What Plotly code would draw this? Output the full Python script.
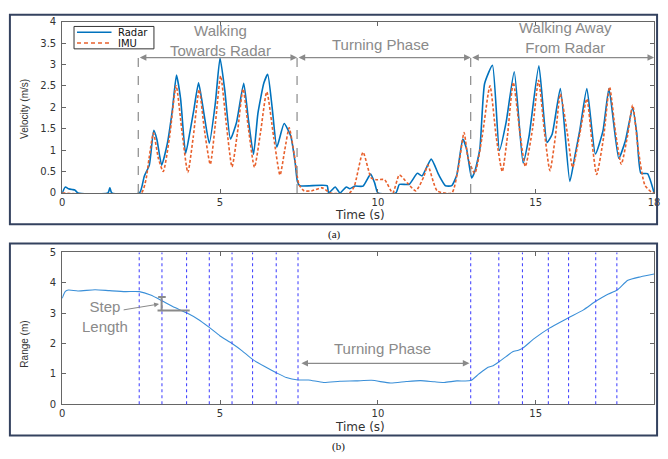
import plotly.graph_objects as go

# ---------------- data ----------------
radar_t = [0, 0.1, 0.2, 0.31, 0.4, 0.5, 1.45, 1.51, 1.57, 2.45, 2.6, 2.76, 2.9, 3.0, 3.15, 3.33, 3.49, 3.62,
           3.75, 3.91, 4.06, 4.17, 4.32, 4.48, 4.66, 4.85, 5.0, 5.15, 5.33, 5.52, 5.75, 5.9, 6.06, 6.2, 6.39,
           6.51, 6.65, 6.8, 7.03, 7.24, 7.38, 7.45, 7.53, 8.39, 8.44, 8.65, 8.8, 9.0, 9.11, 9.27, 9.53, 9.77,
           9.9, 10.0, 10.57, 10.68, 10.99, 11.25, 11.4, 11.69, 11.93, 12.14, 12.34, 12.5, 12.69, 12.81, 12.97,
           13.07, 13.23, 13.38, 13.63, 13.85, 14.06, 14.32, 14.6, 14.79, 15.1, 15.36, 15.52, 15.78, 16.08,
           16.25, 16.4, 16.62, 16.89, 17.13, 17.32, 17.63, 17.84, 18.07, 18.2, 18.33, 18.54, 18.75]
radar_v = [0, 0.14, 0.1, 0.08, 0.07, 0, 0, 0.12, 0, 0, 0.39, 0.65, 1.46, 1.25, 0.65, 1.15, 1.94, 2.75,
           2.2, 0.92, 1.48, 1.94, 2.57, 1.9, 1.16, 2.09, 3.15, 2.4, 1.26, 1.64, 2.56, 1.7, 0.9, 1.86, 2.57,
           2.77, 2.0, 1.07, 1.62, 1.33, 0.7, 0.27, 0.17, 0.17, 0, 0.14, 0, 0.14, 0.1, 0.16, 0.16, 0.44,
           0.23, 0, 0, 0.2, 0.2, 0.46, 0.4, 0.79, 0.42, 0.17, 0.17, 0.42, 1.26, 1.03, 0.35,
           0.5, 1.03, 2.55, 2.98, 0.99, 1.64, 2.83, 0.7, 1.33, 2.97, 1.18, 1.37, 2.44, 0.27,
           0.9, 1.48, 2.44, 0.91, 1.45, 2.44, 0.81, 1.22, 1.99, 1.4, 0.46, 0.45, 0]

imu_t = [0, 2.5, 2.65, 2.75, 2.89, 3.05, 3.2, 3.4, 3.61, 3.8, 3.98, 4.15, 4.34, 4.5, 4.69, 4.85, 5.02, 5.2,
         5.38, 5.55, 5.73, 5.9, 6.09, 6.28, 6.48, 6.7, 6.9, 7.05, 7.19, 7.35, 7.5, 7.66, 7.9, 8.23, 8.5,
         9.1, 9.25, 9.53, 9.79, 9.95, 10.21, 10.47, 10.68, 10.94, 11.2, 11.46, 11.58, 11.88, 12.34, 12.55,
         12.73, 12.86, 13.07, 13.3, 13.55, 13.75, 13.94, 14.1, 14.29, 14.5, 14.67, 14.9, 15.09, 15.28,
         15.45, 15.62, 15.78, 16.0, 16.17, 16.4, 16.62, 16.78, 16.93, 17.15, 17.34, 17.53, 17.71, 17.9,
         18.07, 18.25, 18.46, 18.7, 18.75]
imu_v = [0, 0, 0.3, 0.8, 1.4, 0.8, 0.5, 1.3, 2.5, 1.4, 0.48, 1.3, 2.41, 1.5, 0.67, 1.6, 2.73, 1.6,
         0.61, 1.4, 2.43, 1.5, 0.6, 1.4, 2.36, 1.3, 0.42, 1.0, 1.52, 0.9, 0.2, 0.05, 0.05, 0.12, 0,
         0, 0.15, 0.95, 0.35, 0.31, 0.31, 0, 0.42, 0.23, 0.05, 0.39, 0.65, 0.05, 0, 0.6,
         1.41, 0.8, 0.46, 1.3, 2.5, 1.3, 0.5, 1.3, 2.58, 1.4, 0.62, 1.5, 2.63, 1.4,
         0.52, 1.3, 2.31, 1.4, 0.6, 1.4, 2.2, 1.2, 0.43, 1.3, 2.47, 1.4, 0.67, 1.3,
         2.05, 1.0, 0.18, 0, 0]

range_t = [0, 0.1, 0.2, 0.5, 1.04, 1.5, 2.0, 2.44, 2.8, 3.16, 3.5, 3.94, 4.3, 4.66, 5.0, 5.38, 5.7, 6.03,
           6.4, 6.78, 7.1, 7.47, 7.8, 8.28, 8.8, 9.3, 9.8, 10.4, 10.9, 11.35, 11.8, 12.1, 12.5, 12.94,
           13.2, 13.49, 13.65, 13.85, 14.1, 14.27, 14.45, 14.58, 14.95, 15.42, 16.04, 16.5, 16.9, 17.24,
           17.58, 17.92, 18.33, 18.75]
range_m = [3.49, 3.72, 3.76, 3.73, 3.77, 3.74, 3.71, 3.71, 3.6, 3.41, 3.22, 3.01, 2.8, 2.53, 2.25, 2.0, 1.76,
           1.48, 1.25, 1.04, 0.88, 0.8, 0.8, 0.72, 0.76, 0.77, 0.79, 0.7, 0.75, 0.78, 0.74, 0.72, 0.77, 0.78,
           1.0, 1.22, 1.27, 1.41, 1.6, 1.73, 1.78, 1.84, 2.16, 2.5, 2.85, 3.1, 3.39, 3.6,
           3.76, 4.08, 4.2, 4.29]

step_times = [2.44, 3.16, 3.94, 4.66, 5.38, 6.03, 6.78, 7.47, 12.94, 13.83, 14.58, 15.4, 16.04, 16.9, 17.57]
phase_bounds = [2.41, 7.44, 12.94, 18.75]
phase_labels = ["Walking<br>Towards Radar", "Turning Phase", "Walking Away<br>From Radar"]

x_ticks_top = [0, 5, 10, 15, 18.75]
x_ticktext_top = ["0", "5", "10", "15", "18"]

# ---------------- figure ----------------
W, H = 668, 459
def px(x):
    return x / W
def py(y):
    return 1 - y / H

RADAR_C = "#0072BD"
IMU_C = "#E8602C"
IMU_DASH = "3px,2px"

fig = go.Figure()
fig.add_trace(go.Scatter(x=radar_t, y=radar_v, name="Radar", mode="lines", showlegend=False,
                         line=dict(color=RADAR_C, width=1.6, shape="spline", smoothing=0.5),
                         xaxis="x", yaxis="y"))
fig.add_trace(go.Scatter(x=imu_t, y=imu_v, name="IMU", mode="lines", showlegend=False,
                         line=dict(color=IMU_C, width=1.6, dash=IMU_DASH, shape="spline", smoothing=0.6),
                         xaxis="x", yaxis="y"))
fig.add_trace(go.Scatter(x=range_t, y=range_m, name="Range", mode="lines", showlegend=False,
                         line=dict(color="#3A8FD8", width=1.1, shape="spline", smoothing=0.6),
                         xaxis="x2", yaxis="y2"))

axis_common = dict(showgrid=False, zeroline=False, showline=True, linecolor="#666", linewidth=1,
                   mirror="ticks", ticks="inside", ticklen=4, tickcolor="#666",
                   tickfont=dict(family="DejaVu Sans", size=10, color="#333"))

shapes = []
annotations = []
gray = "#8a8a8a"

def text_ann(x, y, text, family="Liberation Sans", size=15, color=gray, angle=0):
    return dict(x=px(x), y=py(y), xref="paper", yref="paper", text=text, showarrow=False,
                xanchor="center", yanchor="middle", textangle=angle,
                font=dict(family=family, size=size, color=color))

# outer frames
for (y0, y1) in [(9, 224), (244, 441)]:
    shapes.append(dict(type="rect", xref="paper", yref="paper", x0=px(7), x1=px(663), y0=py(y1), y1=py(y0),
                       line=dict(color="#34425f", width=2)))

# legend (manual, compact)
shapes.append(dict(type="rect", xref="paper", yref="paper", x0=px(72), x1=px(153), y0=py(44), y1=py(21),
                   line=dict(color="#333", width=1), fillcolor="white", layer="above"))
shapes.append(dict(type="line", xref="paper", yref="paper", x0=px(75), x1=px(110), y0=py(27), y1=py(27),
                   line=dict(color=RADAR_C, width=1.6), layer="above"))
shapes.append(dict(type="line", xref="paper", yref="paper", x0=px(75), x1=px(110), y0=py(38), y1=py(38),
                   line=dict(color=IMU_C, width=1.6, dash="4px,3px"), layer="above"))
for lab, yy in [("Radar", 27), ("IMU", 38)]:
    annotations.append(dict(x=px(115), y=py(yy), xref="paper", yref="paper", text=lab, showarrow=False,
                            xanchor="left", yanchor="middle",
                            font=dict(family="DejaVu Sans", size=10, color="#111")))

# top phase dividers and arrows
arrow_y = 3.16
for xb in phase_bounds[:3]:
    shapes.append(dict(type="line", xref="x", yref="y", x0=xb, x1=xb, y0=0, y1=arrow_y,
                       line=dict(color=gray, width=1.2, dash="dash")))
for i in range(3):
    annotations.append(dict(x=phase_bounds[i + 1], y=arrow_y, ax=phase_bounds[i], ay=arrow_y,
                            xref="x", yref="y", axref="x", ayref="y", text="", showarrow=True,
                            arrowhead=2, startarrowhead=2, arrowside="end+start", arrowsize=1.1,
                            arrowwidth=1.2, arrowcolor=gray, standoff=0, startstandoff=0))
label_pos = [(220, 35), (383, 40), (570, 32)]
for lab, (lx, ly) in zip(phase_labels, label_pos):
    annotations.append(text_ann(lx, ly, lab))

# bottom step lines
for st in step_times:
    shapes.append(dict(type="line", xref="x2", yref="y2 domain", x0=st, x1=st, y0=0, y1=1,
                       line=dict(color="#4a4aff", width=1.1, dash="dot")))

# bottom turning phase arrow
annotations.append(dict(x=12.9, y=1.35, ax=7.53, ay=1.35, xref="x2", yref="y2", axref="x2", ayref="y2",
                        text="", showarrow=True, arrowhead=2, startarrowhead=2, arrowside="end+start",
                        arrowsize=1.1, arrowwidth=1.2, arrowcolor=gray, standoff=0, startstandoff=0))
annotations.append(text_ann(385, 352, "Turning Phase"))

# step length marker
shapes += [
    dict(type="line", xref="x2", yref="y2", x0=3.15, x1=3.15, y0=3.09, y1=3.53, line=dict(color=gray, width=2)),
    dict(type="line", xref="x2", yref="y2", x0=3.04, x1=3.28, y0=3.53, y1=3.53, line=dict(color=gray, width=2)),
    dict(type="line", xref="x2", yref="y2", x0=3.02, x1=4.04, y0=3.09, y1=3.09, line=dict(color=gray, width=2)),
]
annotations.append(dict(x=3.07, y=3.3, ax=1.9, ay=3.1, xref="x2", yref="y2", axref="x2", ayref="y2",
                        text="", showarrow=True, arrowhead=2, arrowsize=1, arrowwidth=1,
                        arrowcolor=gray, standoff=0))
annotations.append(text_ann(103, 319, "Step<br>Length"))

# axis titles and captions
annotations += [
    text_ann(22, 106, "Velocity (m/s)", size=10, color="#333", angle=-90),
    text_ann(22, 347, "Range (m)", size=10, color="#333", angle=-90),
    text_ann(362, 215, "Time (s)", family="DejaVu Sans", size=12, color="#333"),
    text_ann(362, 432, "Time (s)", family="DejaVu Sans", size=12, color="#333"),
    text_ann(336, 235, "(a)", family="Liberation Serif", size=11, color="#111"),
    text_ann(340, 452, "(b)", family="Liberation Serif", size=11, color="#111"),
]

fig.update_layout(
    width=W, height=H, margin=dict(l=0, r=0, t=0, b=0),
    paper_bgcolor="white", plot_bgcolor="white", showlegend=False,
    xaxis=dict(domain=[px(60), px(660)], range=[0, 18.75], anchor="y",
               tickvals=x_ticks_top, ticktext=x_ticktext_top, ticklabelstandoff=0, **axis_common),
    yaxis=dict(domain=[py(192), py(16)], range=[0, 4], anchor="x", dtick=0.5,
               ticklabelstandoff=3, **axis_common),
    xaxis2=dict(domain=[px(60), px(660)], range=[0, 18.75], anchor="y2",
                tickvals=[0, 5, 10, 15], ticklabelstandoff=0, **axis_common),
    yaxis2=dict(domain=[py(409), py(253)], range=[0, 5], anchor="x2", dtick=1,
                ticklabelstandoff=3, **axis_common),
    shapes=shapes, annotations=annotations,
)

fig.write_html("out.html")
